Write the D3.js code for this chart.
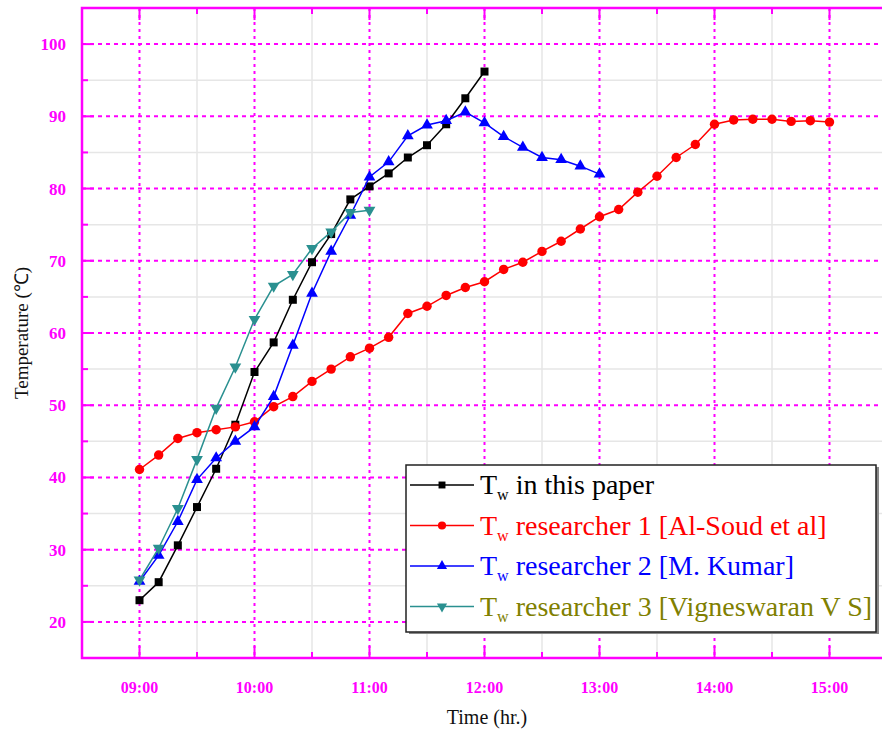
<!DOCTYPE html>
<html><head><meta charset="utf-8">
<script src="https://cdn.jsdelivr.net/npm/d3@7"></script>
<style>body{margin:0;background:#fff}svg{display:block}</style>
</head><body><svg id="c" width="882" height="732"></svg>
<script>
// ---- data (time in hours, 10-minute steps) ----
const timesBlack = d3.range(0,19).map(i=>9+i/6);
const valuesBlack = [23,25.5,30.6,35.9,41.2,47.3,54.6,58.7,64.6,69.8,73.7,78.5,80.3,82.1,84.3,86.0,88.9,92.5,96.2];
const timesRed = d3.range(0,37).map(i=>9+i/6);
const valuesRed = [41.1,43.1,45.4,46.2,46.6,47.0,47.7,49.8,51.2,53.3,55.0,56.7,57.9,59.4,62.7,63.7,65.2,66.3,67.1,68.8,69.8,71.3,72.7,74.4,76.1,77.1,79.5,81.7,84.3,86.1,88.9,89.5,89.6,89.6,89.3,89.4,89.2];
const timesBlue = d3.range(0,25).map(i=>9+i/6);
const valuesBlue = [25.6,29.2,33.9,39.7,42.7,45.0,47.0,51.2,58.3,65.5,71.3,76.3,81.6,83.7,87.3,88.8,89.4,90.6,89.1,87.2,85.7,84.3,84.0,83.1,82.0];
const timesTeal = d3.range(0,13).map(i=>9+i/6);
const valuesTeal = [25.8,30.2,35.7,42.5,49.6,55.3,61.9,66.5,68.1,71.7,74.0,76.7,77.0];
const xTickValues = [9,10,11,12,13,14,15];
const xTickLabels = ["09:00","10:00","11:00","12:00","13:00","14:00","15:00"];
const yTickValues = [20,30,40,50,60,70,80,90,100];
const seriesNames = ["in this paper","researcher 1 [Al-Soud et al]","researcher 2 [M. Kumar]","researcher 3 [Vigneswaran V S]"];

const svg = d3.select("#c");
const L=82, T=8, B=658, R=887;
const x = d3.scaleLinear().domain([8.5,15.5]).range([L,R]);
const y = d3.scaleLinear().domain([15,105]).range([B,T]);
const MAG = "#ff00ff";

// minor grid (grey)
const xMinor = d3.range(9.5,15.6,1);
const yMinor = d3.range(25,105,10);
const g = svg.append("g");
g.selectAll(".xm").data(xMinor).join("line").attr("x1",d=>x(d)).attr("x2",d=>x(d)).attr("y1",T).attr("y2",B).attr("stroke","#e6e6e6").attr("stroke-width",1.5);
g.selectAll(".ym").data(yMinor).join("line").attr("x1",L).attr("x2",R).attr("y1",d=>y(d)).attr("y2",d=>y(d)).attr("stroke","#e6e6e6").attr("stroke-width",1.5);
// major grid (magenta dotted)
g.selectAll(".xM").data(xTickValues).join("line").attr("x1",d=>x(d)).attr("x2",d=>x(d)).attr("y1",T).attr("y2",B).attr("stroke",MAG).attr("stroke-width",2).attr("stroke-dasharray","3,4");
g.selectAll(".yM").data(yTickValues).join("line").attr("x1",L).attr("x2",R).attr("y1",d=>y(d)).attr("y2",d=>y(d)).attr("stroke",MAG).attr("stroke-width",2).attr("stroke-dasharray","4,4");

// ticks inward
const tk = svg.append("g").attr("stroke",MAG).attr("stroke-width",2);
yTickValues.forEach(v=>tk.append("line").attr("x1",L).attr("x2",L+12).attr("y1",y(v)).attr("y2",y(v)));
yMinor.forEach(v=>tk.append("line").attr("x1",L).attr("x2",L+6).attr("y1",y(v)).attr("y2",y(v)));
xTickValues.forEach(v=>{tk.append("line").attr("x1",x(v)).attr("x2",x(v)).attr("y1",B).attr("y2",B-12);tk.append("line").attr("x1",x(v)).attr("x2",x(v)).attr("y1",T).attr("y2",T+12);});
xMinor.forEach(v=>{tk.append("line").attr("x1",x(v)).attr("x2",x(v)).attr("y1",B).attr("y2",B-6);tk.append("line").attr("x1",x(v)).attr("x2",x(v)).attr("y1",T).attr("y2",T+6);});

// frame
svg.append("rect").attr("x",L).attr("y",T).attr("width",R-L).attr("height",B-T).attr("fill","none").attr("stroke",MAG).attr("stroke-width",2.5);

// tick labels
svg.append("g").selectAll("text").data(yTickValues).join("text")
  .attr("x",L-16).attr("y",d=>y(d)).attr("dy","0.35em").attr("text-anchor","end")
  .attr("font-family","Liberation Serif").attr("font-weight","bold").attr("font-size",17).attr("fill",MAG).text(d=>d);
svg.append("g").selectAll("text").data(xTickValues).join("text")
  .attr("x",d=>x(d)).attr("y",B+35).attr("text-anchor","middle")
  .attr("font-family","Liberation Serif").attr("font-weight","bold").attr("font-size",16).attr("fill",MAG).text((d,i)=>xTickLabels[i]);

// axis titles
svg.append("text").attr("x",487).attr("y",724).attr("text-anchor","middle").attr("font-family","Liberation Serif").attr("font-size",20).attr("fill","#111").text("Time (hr.)");
svg.append("text").attr("transform","translate(28,333) rotate(-90)").attr("text-anchor","middle").attr("font-family","Liberation Serif").attr("font-size",19).attr("fill","#111").text("Temperature (℃)");

// series
const series = [
  {t:timesBlack,v:valuesBlack,color:"#000000",sym:d3.symbolSquare,size:64,text:"#000000"},
  {t:timesRed,v:valuesRed,color:"#ff0000",sym:d3.symbolCircle,size:70,text:"#ff0000"},
  {t:timesBlue,v:valuesBlue,color:"#0000ff",sym:d3.symbolTriangle,size:60,text:"#0000ff"},
  {t:timesTeal,v:valuesTeal,color:"#2a9090",sym:d3.symbolTriangle,size:60,text:"#808000",flip:true}
];
const line = d3.line().x(d=>x(d[0])).y(d=>y(d[1]));
series.forEach(s=>{
  const pts = s.t.map((t,i)=>[t,s.v[i]]);
  svg.append("path").datum(pts).attr("d",line).attr("fill","none").attr("stroke",s.color).attr("stroke-width",1.5);
  svg.append("g").selectAll("path").data(pts).join("path")
    .attr("d",d3.symbol().type(s.sym).size(s.size))
    .attr("transform",d=>`translate(${x(d[0])},${y(d[1])})${s.flip?" rotate(180)":""}`)
    .attr("fill",s.color);
});

// legend
const lg = svg.append("g");
lg.append("rect").attr("x",409).attr("y",467).attr("width",470).attr("height",167).attr("fill","#888");
lg.append("rect").attr("x",406).attr("y",465).attr("width",470).attr("height",167).attr("fill","#fff").attr("stroke","#222").attr("stroke-width",1.5);
series.forEach((s,i)=>{
  const cy = 485 + i*40.5;
  lg.append("line").attr("x1",410).attr("x2",474).attr("y1",cy).attr("y2",cy).attr("stroke",s.color).attr("stroke-width",1.5);
  lg.append("path").attr("d",d3.symbol().type(s.sym).size(s.size*0.75)).attr("transform",`translate(442,${cy})${s.flip?" rotate(180)":""}`).attr("fill",s.color);
  const tx = lg.append("text").attr("x",480).attr("y",cy+9).attr("font-family","Liberation Serif").attr("font-size",28).attr("fill",s.text);
  tx.append("tspan").text("T");
  tx.append("tspan").attr("font-size",16).attr("dy",6).text("w");
  tx.append("tspan").attr("dy",-6).text(" "+seriesNames[i]);
});
</script></body></html>
